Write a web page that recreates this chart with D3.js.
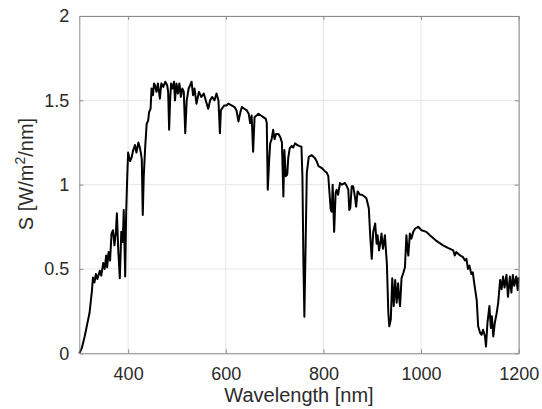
<!DOCTYPE html>
<html><head><meta charset="utf-8">
<script src="https://cdn.jsdelivr.net/npm/d3@7"></script>
<style>body{margin:0;background:#fff}text{font-family:"Liberation Sans",Arial,sans-serif}</style>
</head><body><svg id="c" width="542" height="409"></svg>
<script>
const wavelength = [300,305,311,316,321,326,328,331,334,337,342,345,349,352,355,357,360,363,366,369,372,375,377,380,383,386,389,391,394,396,398,400,404,407,410,414,417,421,424,426,428,430,432,435,438,441,443,446,448,451,453,455,458,461,465,468,472,476,480,482,484,486,488,491,494,496,499,502,505,508,511,514,517,520,524,527,530,533,536,540,545,550,555,560,564,568,572,577,581,585,588,590,592,597,602,605,612,618,622,626,630,633,638,643,647,650,653,656,659,663,667,672,677,682,684,686,689,691,694,697,700,703,708,712,715,718,720,723,726,728,731,735,738,742,746,750,755,757,759,761,763,766,770,776,782,786,790,796,803,807,810,813,815,817,819,822,825,827,830,834,838,844,848,851,853,855,858,861,865,867,870,875,879,884,888,893,896,899,902,906,909,911,914,917,919,922,926,930,933,935,938,941,944,947,950,953,955,957,960,964,967,970,972,974,977,980,984,988,994,1001,1011,1018,1030,1045,1055,1066,1069,1072,1080,1086,1090,1093,1096,1099,1103,1106,1109,1114,1117,1121,1124,1127,1131,1133,1136,1140,1143,1145,1148,1151,1155,1158,1162,1165,1168,1171,1175,1178,1182,1185,1188,1191,1195,1198,1200];
const irradiance = [0.00,0.03,0.10,0.17,0.24,0.375,0.45,0.42,0.47,0.44,0.49,0.46,0.535,0.50,0.58,0.51,0.60,0.55,0.71,0.73,0.64,0.72,0.83,0.60,0.445,0.72,0.66,0.85,0.455,0.83,1.03,1.19,1.14,1.16,1.20,1.235,1.19,1.25,1.22,1.19,1.15,0.82,1.05,1.225,1.36,1.38,1.43,1.45,1.57,1.53,1.60,1.59,1.55,1.60,1.51,1.60,1.58,1.61,1.59,1.55,1.325,1.50,1.60,1.57,1.61,1.50,1.60,1.54,1.60,1.52,1.57,1.55,1.305,1.50,1.57,1.59,1.61,1.53,1.57,1.48,1.55,1.52,1.54,1.49,1.45,1.50,1.52,1.50,1.54,1.50,1.305,1.44,1.45,1.47,1.47,1.48,1.47,1.46,1.44,1.375,1.43,1.46,1.45,1.44,1.42,1.365,1.41,1.195,1.40,1.41,1.42,1.41,1.40,1.39,1.365,0.97,1.15,1.245,1.27,1.325,1.27,1.30,1.30,1.28,1.25,0.93,1.205,1.05,1.06,1.16,1.215,1.23,1.22,1.245,1.235,1.23,1.225,1.05,0.55,0.217,0.55,1.07,1.165,1.175,1.16,1.14,1.11,1.10,1.08,1.07,1.05,0.93,0.85,0.84,1.0,0.72,0.95,0.97,0.94,1.01,1.00,1.01,0.99,0.97,0.85,0.86,0.99,0.99,0.92,0.87,0.96,0.94,0.94,0.93,0.92,0.86,0.69,0.56,0.72,0.77,0.65,0.70,0.61,0.66,0.71,0.62,0.70,0.53,0.24,0.16,0.20,0.445,0.28,0.435,0.30,0.415,0.33,0.28,0.445,0.48,0.51,0.70,0.62,0.58,0.71,0.68,0.72,0.74,0.75,0.73,0.72,0.70,0.67,0.64,0.625,0.61,0.58,0.60,0.58,0.57,0.55,0.56,0.50,0.52,0.47,0.48,0.415,0.315,0.16,0.12,0.11,0.14,0.10,0.04,0.18,0.28,0.15,0.22,0.10,0.18,0.24,0.30,0.435,0.38,0.455,0.39,0.465,0.335,0.455,0.36,0.465,0.40,0.455,0.375,0.45];
const xTicks = [400,600,800,1000,1200];
const xTickLabels = ["400","600","800","1000","1200"];
const yTicks = [0,0.5,1,1.5,2];
const yTickLabels = ["0","0.5","1","1.5","2"];

const svg = d3.select("#c");
const L=79.3, R=518.7, T=16, B=353.3;
const x = d3.scaleLinear().domain([300,1200]).range([L,R]);
const y = d3.scaleLinear().domain([0,2]).range([B,T]);
const txt = "#2b2b2b", axc = "#8c8c8c", grid = "#e6e6e6";

svg.append("g").selectAll("line").data(xTicks).join("line")
  .attr("x1",d=>x(d)).attr("x2",d=>x(d)).attr("y1",T).attr("y2",B)
  .attr("stroke",grid).attr("stroke-width",1);
svg.append("g").selectAll("line").data(yTicks).join("line")
  .attr("x1",L).attr("x2",R).attr("y1",d=>y(d)).attr("y2",d=>y(d))
  .attr("stroke",grid).attr("stroke-width",1);

const pts = wavelength.map((w,i)=>[w,irradiance[i]]);
svg.append("path").datum(pts)
  .attr("d", d3.line().x(d=>x(d[0])).y(d=>y(d[1])))
  .attr("fill","none").attr("stroke","#000").attr("stroke-width",2).attr("stroke-linejoin","round");

const ax = (g)=>{g.select(".domain").attr("stroke",axc);g.selectAll(".tick line").attr("stroke",axc);g.selectAll("text").attr("fill",txt).style("font-size","18px").style("font-family","Liberation Sans, Arial, sans-serif");};
svg.append("g").attr("transform",`translate(0,${B})`)
  .call(d3.axisBottom(x).tickValues(xTicks).tickFormat((d,i)=>xTickLabels[i]).tickSizeInner(-4).tickSizeOuter(0).tickPadding(14))
  .call(ax);
svg.append("g").attr("transform",`translate(0,${T})`)
  .call(d3.axisTop(x).tickValues(xTicks).tickSizeInner(-4).tickSizeOuter(0).tickFormat(""))
  .call(ax);
svg.append("g").attr("transform",`translate(${L},0)`)
  .call(d3.axisLeft(y).tickValues(yTicks).tickFormat((d,i)=>yTickLabels[i]).tickSizeInner(-4).tickSizeOuter(0).tickPadding(10))
  .call(ax);
svg.append("g").attr("transform",`translate(${R},0)`)
  .call(d3.axisRight(y).tickValues(yTicks).tickSizeInner(-4).tickSizeOuter(0).tickFormat(""))
  .call(ax);

svg.append("text").attr("x",(L+R)/2).attr("y",402).attr("text-anchor","middle")
  .attr("fill",txt).style("font-size","20px").text("Wavelength [nm]");
const yl = svg.append("text").attr("transform","translate(33,174) rotate(-90)").attr("text-anchor","middle")
  .attr("fill",txt).style("font-size","20px");
yl.append("tspan").text("S [W/m");
yl.append("tspan").attr("dy",-8).style("font-size","14px").text("2");
yl.append("tspan").attr("dy",8).text("/nm]");
</script></body></html>
